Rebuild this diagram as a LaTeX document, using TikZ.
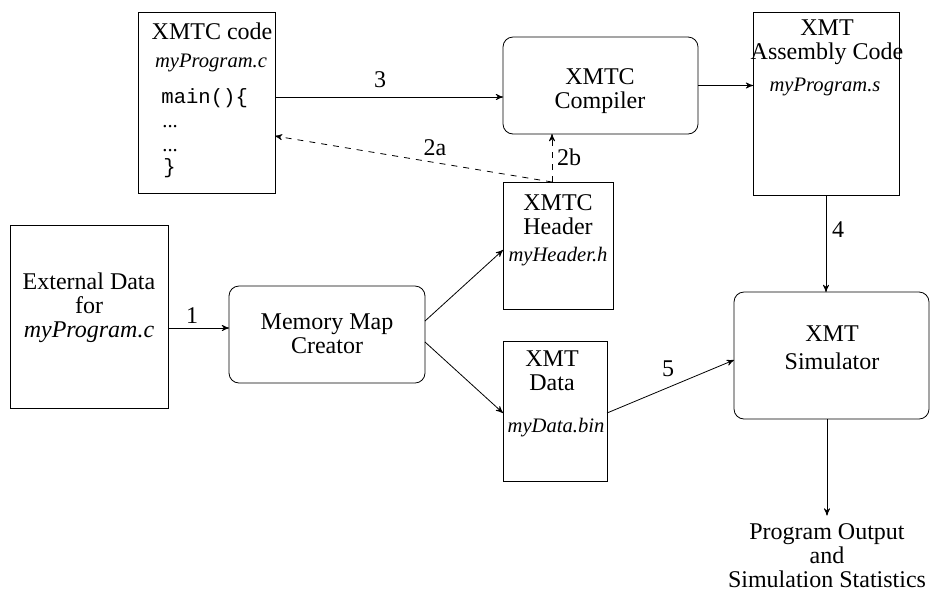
\documentclass[tikz,border=0pt]{standalone}
\usepackage{fontspec}
\setmainfont{Liberation Serif}
\setmonofont{Liberation Mono}
\usetikzlibrary{arrows,calc}
\tikzset{
    file/.style =   {rectangle,
                    fill=white,
                    draw=black,
                    inner sep=0pt,
                    outer sep=0pt},
    tool/.style =   {rectangle,
                    rounded corners=5pt,
                    fill=white,
                    draw=black,
                    inner sep=0pt,
                    outer sep=0pt},
    txt/.style =    {inner sep=0pt,
                    align=center,
                    font=\fontsize{12}{12}\selectfont},
    fname/.style =  {inner sep=0pt,
                    font=\fontsize{10.3}{12}\selectfont\itshape},
    prog/.style =   {inner sep=0pt,
                    anchor=west,
                    font=\fontsize{10.3}{12}\selectfont\ttfamily},
    dots/.style =   {inner sep=0pt,
                    anchor=base west,
                    font=\fontsize{10.3}{12}\selectfont},
    -,
    >=stealth',
    line width=0.6pt,
    draw=black!85}

\begin{document}
\begin{tikzpicture}[x=0.5pt,y=-0.5pt]
            \useasboundingbox (0,0) rectangle (930,590);

            \node[file,minimum width=68.5pt,minimum height=90.5pt]  (code)   at (206.5,102.5)  {};
            \node[tool,minimum width=97.5pt,minimum height=48.5pt]  (comp)   at (600.5,85.5)   {};
            \node[file,minimum width=73pt,minimum height=91.5pt]    (asm)    at (826,103.5)    {};
            \node[file,minimum width=55pt,minimum height=63.5pt]    (header) at (558,245.5)    {};
            \node[file,minimum width=79pt,minimum height=91.5pt]    (ext)    at (89,316.5)     {};
            \node[tool,minimum width=98pt,minimum height=48.5pt]    (mmc)    at (327,334.5)    {};
            \node[file,minimum width=52pt,minimum height=70pt]      (data)   at (555,411)      {};
            \node[tool,minimum width=97.5pt,minimum height=63.5pt]  (sim)    at (831.5,355.5)  {};

            \node[txt]      (codeT)   at (212,31)    {XMTC code};
            \node[fname]    (codeF)   at (211,63)    {myProgram.c};
            \node[prog]     (codeL1)  at (161,98)    {main()\{};
            \node[dots]     (codeL2)  at (162,127)   {...};
            \node[dots]     (codeL3)  at (162,151)   {...};
            \node[prog]     (codeL4)  at (163,168)   {\}};

            \node[txt]      (compT)   at (600,91)    {XMTC\\Compiler};
            \node[txt]      (asmT)    at (827,42)    {XMT\\Assembly Code};
            \node[fname]    (asmF)    at (825,87)    {myProgram.s};
            \node[txt]      (headerT) at (558,215)   {XMTC\\Header};
            \node[fname]    (headerF) at (558,257)   {myHeader.h};
            \node[txt]      (extT)    at (89,308)    {External Data\\for\\\textit{myProgram.c}};
            \node[txt]      (mmcT)    at (327,334)   {Memory Map\\Creator};
            \node[txt]      (dataT)   at (552,371)   {XMT\\Data};
            \node[fname]    (dataF)   at (556,428)   {myData.bin};
            \node[txt,font=\fontsize{12}{14}\selectfont] (simT) at (832,348) {XMT\\Simulator};
            \node[txt,inner sep=4pt] (out) at (827,556) {Program Output\\and\\Simulation Statistics};

            \node[txt]      (n1)      at (192,316)   {1};
            \node[txt]      (n2a)     at (435,148)   {2a};
            \node[txt]      (n2b)     at (569,157)   {2b};
            \node[txt]      (n3)      at (380,80)    {3};
            \node[txt]      (n4)      at (838,230)   {4};
            \node[txt]      (n5)      at (668,369)   {5};

            \coordinate (h2) at ([xshift=-3pt]header.north);

            \draw[->]  (code.east |- 0,97) -- (comp.west |- 0,97);
            \draw[->]  (comp.east) -- (comp.east -| asm.west);
            \draw[->,dashed]  (h2) -- (h2 |- comp.south);
            \draw[->,dashed]  (h2) -- (code.east |- 0,136);
            \draw[->]  (ext.east |- 0,328) -- (mmc.west |- 0,328);
            \draw[->]  (mmc.east |- 0,321) -- (header.west |- 0,250);
            \draw[->]  (mmc.east |- 0,342) -- (data.west |- 0,413);
            \draw[->]  (data.east |- 0,413) -- (sim.west |- 0,360);
            \draw[->]  (asm.south) -- (asm.south |- sim.north);
            \draw[->]  (sim.south -| out.north) -- (out.north);
        \end{tikzpicture}
\end{document}
